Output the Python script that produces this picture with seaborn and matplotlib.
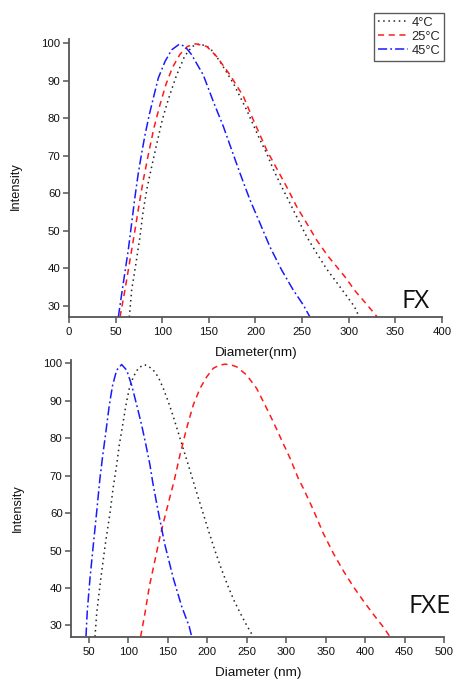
import matplotlib
matplotlib.use("Agg")
import matplotlib.pyplot as plt
from matplotlib.lines import Line2D
import seaborn as sns
import pandas as pd

# ---------------- data ----------------
series = ["4°C", "25°C", "45°C"]

# FX panel
fx_4_x = [64.7, 67.2, 71.8, 76.1, 79.7, 84.0, 88.7, 94.0, 100.0, 106.5, 115.0, 124.0, 132.0, 140.5,
          151.2, 161.9, 176.2, 190.5, 204.8, 212.0, 219.0, 226.3, 235.2, 244.2, 254.9, 265.6,
          276.3, 287.1, 297.8, 306.0, 311.3]
fx_4_y = [27, 34.2, 41.3, 48.4, 55.5, 61.7, 67.1, 73.0, 79.5, 85.0, 91.2, 96.5, 99.1, 99.8,
          98.7, 95.1, 89.3, 82.2, 74.2, 70.6, 66.4, 62.6, 58.2, 53.7, 48.4, 44.0,
          39.8, 36.2, 32.6, 29.8, 27]
fx_25_x = [54.7, 60.0, 65.4, 70.8, 75.4, 79.7, 85.0, 91.0, 97.5, 104.0, 111.0, 119.0, 127.0, 136.0,
           147.7, 158.4, 172.7, 187.0, 197.7, 212.0, 222.7, 233.4, 244.2, 254.9, 265.6, 278.1,
           287.1, 296.0, 307.0, 319.2, 330.6]
fx_25_y = [27, 34.2, 42.2, 50.2, 57.3, 63.5, 70.2, 77.3, 83.5, 89.0, 93.5, 97.0, 99.1, 99.8,
           99.1, 96.4, 91.5, 85.8, 79.5, 71.5, 66.6, 61.7, 56.4, 52.0, 47.5, 43.1,
           40.4, 37.7, 33.9, 30.4, 27]
fx_45_x = [52.9, 58.2, 63.6, 67.2, 70.8, 74.3, 77.9, 81.5, 86.1, 90.4, 95.8, 103.0, 110.1, 118.3,
           124.4, 131.5, 144.0, 154.8, 165.5, 174.5, 183.4, 194.1, 204.8, 215.5, 228.1, 240.5,
           251.3, 258.4]
fx_45_y = [27, 36.0, 44.9, 52.0, 59.1, 65.3, 70.6, 75.5, 80.9, 85.3, 90.7, 95.1, 98.2, 99.7,
           99.1, 96.9, 91.5, 84.4, 77.8, 71.5, 65.3, 58.2, 52.0, 45.7, 39.5, 34.2,
           30.2, 27]

# FXE panel
fxe_4_x = [57.6, 59.8, 64.8, 70.3, 76.6, 80.8, 85.1, 88.4, 92.7, 96.9, 101.1, 106.2, 112.5, 119.7,
           125.0, 131.5, 137.8, 144.2, 150.5, 156.9, 163.2, 169.5, 176.0, 182.5, 189.0, 195.5,
           202.0, 210.0, 218.0, 226.0, 234.0, 242.0, 250.0, 258.3]
fxe_4_y = [27, 33.3, 42.2, 51.1, 60.0, 67.0, 72.9, 78.2, 83.5, 88.9, 93.3, 96.4, 98.7, 99.7,
           99.3, 98.2, 96.4, 93.3, 89.8, 85.8, 81.5, 77.2, 72.8, 68.3, 63.8, 59.4,
           55.0, 49.8, 45.0, 40.6, 36.6, 33.2, 30.0, 27]
fxe_25_x = [115.5, 121.0, 126.5, 133.7, 140.0, 146.3, 152.7, 157.7, 165.3, 173.8, 182.2, 190.7, 199.2,
            207.6, 215.0, 222.4, 230.0, 237.2, 249.9, 262.6, 273.1, 283.6, 294.2, 304.8, 315.3,
            322.0, 334.3, 347.0, 359.7, 372.4, 385.0, 397.7, 410.4, 423.0, 431.5]
fxe_25_y = [27, 33.3, 40.4, 47.5, 53.7, 59.1, 64.4, 68.4, 75.5, 82.7, 88.9, 93.3, 96.4,
            98.7, 99.5, 99.8, 99.6, 99.1, 96.9, 93.3, 88.9, 84.4, 79.5, 74.7, 69.3,
            66.5, 60.9, 54.6, 49.3, 44.6, 40.4, 36.6, 33.0, 29.6, 27]
fxe_45_x = [46.2, 47.8, 51.3, 55.5, 59.8, 63.9, 67.5, 71.0, 75.8, 80.0, 85.1, 91.4, 97.8, 104.1,
            110.5, 116.8, 122.2, 127.3, 131.0, 137.8, 146.3, 156.9, 167.5, 177.1, 180.2]
fxe_45_y = [27, 33.7, 42.6, 51.5, 60.4, 69.3, 75.5, 81.0, 88.9, 94.2, 98.2, 99.7, 98.2, 94.2,
            88.9, 83.5, 78.2, 72.9, 68.0, 60.4, 51.5, 42.6, 35.1, 29.7, 27]

y_ticks = [30, 40, 50, 60, 70, 80, 90, 100]
fx_x_ticks = [0, 50, 100, 150, 200, 250, 300, 350, 400]
fxe_x_ticks = [50, 100, 150, 200, 250, 300, 350, 400, 450, 500]


def long_df(xs, ys):
    rows = []
    for name, x, y in zip(series, xs, ys):
        for a, b in zip(x, y):
            rows.append({"Temp": name, "x": a, "y": b})
    return pd.DataFrame(rows)


df_fx = long_df([fx_4_x, fx_25_x, fx_45_x], [fx_4_y, fx_25_y, fx_45_y])
df_fxe = long_df([fxe_4_x, fxe_25_x, fxe_45_x], [fxe_4_y, fxe_25_y, fxe_45_y])

# ---------------- style ----------------
sns.set_theme(style="ticks")
plt.rcParams["font.family"] = ["Liberation Sans", "DejaVu Sans"]

palette = {"4°C": "#222222", "25°C": "#ff1a1a", "45°C": "#1a1aff"}
dashes = {"4°C": (1, 2.4), "25°C": (4, 3), "45°C": (6, 2, 1.2, 2)}

fig = plt.figure(figsize=(4.53, 6.79), dpi=100)
ax1 = fig.add_axes([0.1523, 0.5331, 0.8234, 0.409])
ax2 = fig.add_axes([0.1567, 0.0623, 0.8234, 0.408])

for ax, df, xlim, xt, xl, ylab_y, xlab_y in [
    (ax1, df_fx, (0, 400), fx_x_ticks, "Diameter(nm)", 0.472, -0.108),
    (ax2, df_fxe, (27.2, 500), fxe_x_ticks, "Diameter (nm)", 0.465, -0.11),
]:
    sns.lineplot(data=df, x="x", y="y", hue="Temp", style="Temp", units="Temp",
                 estimator=None, sort=False, palette=palette, dashes=dashes,
                 linewidth=1.1, ax=ax, legend=False)
    ax.set_xlim(*xlim)
    ax.set_ylim(27, 101)
    ax.set_xticks(xt)
    ax.set_yticks(y_ticks)
    ax.set_xlabel(xl, fontsize=9.7, color="#111111")
    ax.set_ylabel("Intensity", fontsize=9.2, color="#111111")
    ax.xaxis.set_label_coords(0.501, xlab_y)
    ax.yaxis.set_label_coords(-0.127, ylab_y)
    for s in ["top", "right"]:
        ax.spines[s].set_visible(False)
    for s in ["left", "bottom"]:
        ax.spines[s].set_color("#555555")
        ax.spines[s].set_linewidth(1.3)
    ax.tick_params(axis="both", direction="out", length=4, width=1.1, color="#555555",
                   labelsize=8.2, labelcolor="#111111")
    ax.tick_params(axis="x", pad=3.2)
    ax.tick_params(axis="y", pad=2)

ax1.text(0.968, 0.032, "FX", transform=ax1.transAxes, ha="right", va="baseline",
         fontsize=18.5, family=["Open Sans", "DejaVu Sans"], color="#111111")
ax2.text(1.019, 0.085, "FXE", transform=ax2.transAxes, ha="right", va="baseline",
         fontsize=18.5, family=["Open Sans", "DejaVu Sans"], color="#111111")

handles = [Line2D([0], [0], color=palette[s], linewidth=1.1, dashes=dashes[s]) for s in series]
leg = fig.legend(handles, series, loc="upper right", bbox_to_anchor=(444 / 453, 1 - 13 / 679),
                 fontsize=9.3, frameon=True, fancybox=False, handlelength=2.3,
                 handletextpad=0.3, borderpad=0.3, labelspacing=0.15, borderaxespad=0)
leg.get_frame().set_edgecolor("#333333")
leg.get_frame().set_linewidth(1.0)

fig.savefig("out.png", dpi=100)
